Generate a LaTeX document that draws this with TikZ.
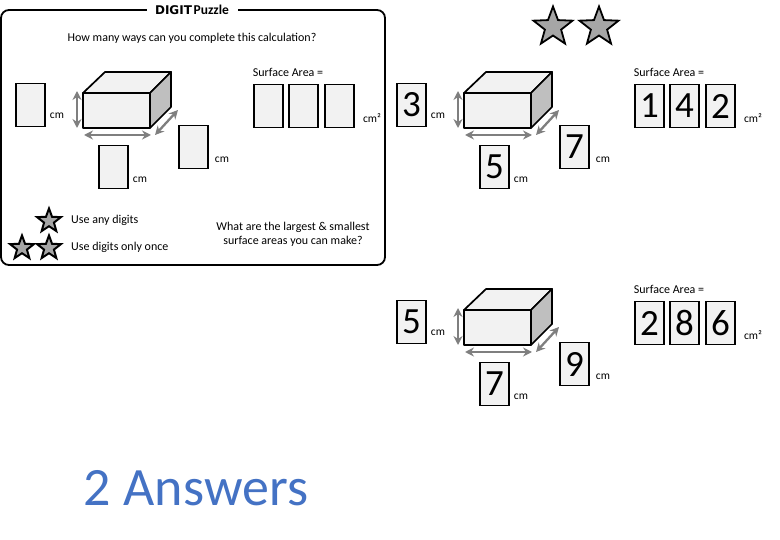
\documentclass[tikz,border=0pt]{standalone}
\usepackage{fontspec}
\setmainfont{Carlito}
\newfontfamily\digitfont{DejaVu Sans}
\usetikzlibrary{shapes.geometric,arrows.meta}
\definecolor{boxgrey}{HTML}{F2F2F2}
\definecolor{sidegrey}{HTML}{BFBFBF}
\definecolor{stargrey}{HTML}{A6A6A6}
\definecolor{arrowgrey}{HTML}{7F7F7F}
\definecolor{answerblue}{HTML}{4472C4}
\tikzset{
  digitbox/.style={draw,fill=boxgrey,line width=1.7pt,minimum width=29pt,minimum height=43pt,inner sep=0pt,font=\fontsize{37}{37}\selectfont},
  face/.style={draw,line width=1.7pt,line join=round},
  sizearrow/.style={{Stealth[length=9pt,width=9pt]}-{Stealth[length=9pt,width=9pt]},draw=arrowgrey,line width=2.3pt},
  wording/.style={inner sep=0pt,font=\fontsize{12}{14.5}\selectfont},
  unitlabel/.style={inner sep=0pt,font=\fontsize{11.5}{13}\selectfont},
  bigstar/.style={star,star points=5,star point ratio=2.4,draw,fill=stargrey,line width=1.8pt,inner sep=0pt,minimum size=41pt},
  smallstar/.style={star,star points=5,star point ratio=2.4,draw,fill=stargrey,line width=2pt,inner sep=0pt,minimum size=25pt},
}
\begin{document}
\begin{tikzpicture}[x=1pt,y=-1pt]
\useasboundingbox (0,0) rectangle (780,540);
% question frame
\draw [line width=1.8pt,rounded corners=8pt] (1,10) rectangle (385,265);
\node (title) [fill=white,inner sep=0pt,minimum width=91pt,minimum height=12pt] at (192,10) {{\digitfont\bfseries\fontsize{12}{14}\selectfont DIGIT}\,{\bfseries\fontsize{13.5}{14}\selectfont Puzzle}};
\node (question) [wording] at (192,38.5) {How many ways can you complete this calculation?};
% cuboids
\foreach \dx/\dy/\high/\wide/\deep/\sa/\sb/\sc in {0/0/ / / / / / ,381/0/3/5/7/1/4/2,381/217/5/7/9/2/8/6}{
\begin{scope}[shift={(\dx,\dy)}]
\coordinate (fnw) at (83,93);
\coordinate (fne) at (150,93);
\coordinate (fse) at (150,128);
\coordinate (fsw) at (83,128);
\coordinate (bnw) at (105,72);
\coordinate (bne) at (171,72);
\coordinate (bse) at (171,107);
\draw [face,fill=boxgrey] (fnw) -- (bnw) -- (bne) -- (fne) -- cycle;
\draw [face,fill=sidegrey] (fne) -- (bne) -- (bse) -- (fse) -- cycle;
\draw [face,fill=boxgrey] (fnw) rectangle (fse);
\coordinate (hup) at (77,91);
\coordinate (hdown) at (77,128);
\coordinate (wleft) at (84,135);
\coordinate (wright) at (151,135);
\coordinate (dlow) at (155,135);
\coordinate (dhigh) at (178,110);
\draw [sizearrow] (hup) -- (hdown);
\draw [sizearrow] (wleft) -- (wright);
\draw [sizearrow] (dlow) -- (dhigh);
\node (height) [digitbox] at (30.5,105) {\high};
\node (width) [digitbox] at (113.5,167) {\wide};
\node (depth) [digitbox] at (193.5,147) {\deep};
\node (hunit) [unitlabel] at (57,115.5) {cm};
\node (wunit) [unitlabel] at (140,179.5) {cm};
\node (dunit) [unitlabel] at (222,159.5) {cm};
\node (area) [wording] at (288,72.5) {Surface Area =};
\node (first) [digitbox] at (268.5,106) {\sa};
\node (second) [digitbox] at (303.5,106) {\sb};
\node (third) [digitbox] at (339.5,106) {\sc};
\node (aunit) [unitlabel] at (372,118) {cm²};
\end{scope}
}
% rules
\node (one) [smallstar] at (49,221) {};
\node (twoa) [smallstar] at (22,248) {};
\node (twob) [smallstar] at (49,248) {};
\node (anyrule) [wording,anchor=west] at (71,220.5) {Use any digits};
\node (oncerule) [wording,anchor=west] at (71,247.5) {Use digits only once};
\node (largest) [wording,align=center] at (293,234.5) {What are the largest \& smallest\\surface areas you can make?};
% level
\node (levela) [bigstar] at (553,27) {};
\node (levelb) [bigstar] at (599,27) {};
\node (answers) [inner sep=0pt,text=answerblue,font=\fontsize{54}{56}\selectfont] at (196,488) {2 Answers};
\end{tikzpicture}
\end{document}
